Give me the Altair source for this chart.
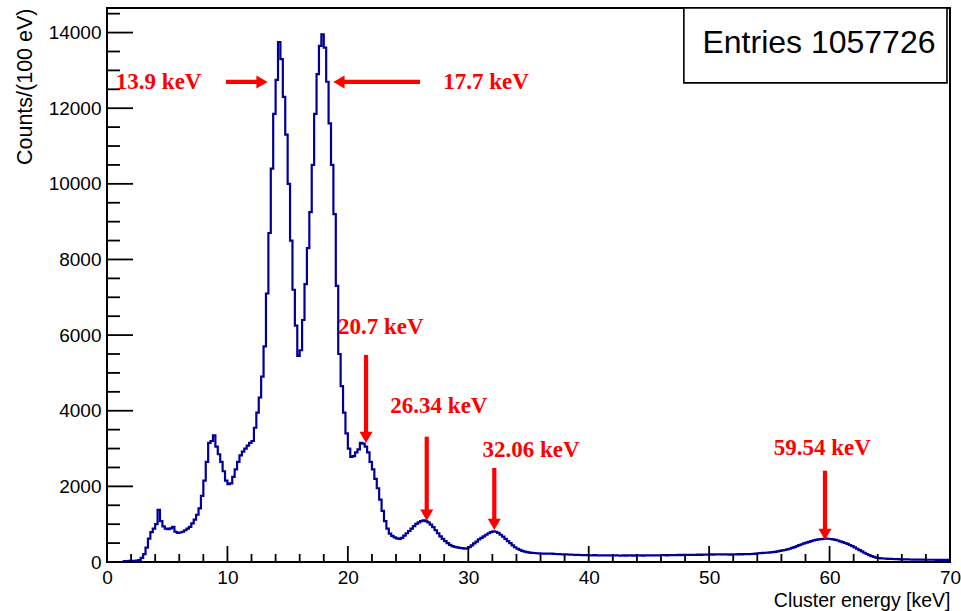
import altair as alt
import pandas as pd

# ---------------- data (counts per 100 eV, read at 0.2 keV bins) ----------------
bin_width = 0.2
counts_00_10 = [0, 0, 0, 0, 0, 0, 0, 22, 25, 28,
                30, 32, 38, 50, 110, 210, 380, 620, 790, 880,
                1000, 1380, 1080, 940, 880, 870, 890, 930, 800, 770,
                780, 800, 840, 880, 930, 1020, 1120, 1250, 1420, 1750,
                2150, 2650, 3150, 3200, 3350, 3050, 2850, 2650, 2400, 2150]
counts_10_20 = [2060, 2080, 2250, 2450, 2650, 2820, 2920, 3000, 3080, 3150,
                3200, 3550, 3950, 4350, 4900, 5700, 7100, 8700, 10400, 11850,
                12750, 13750, 13300, 12300, 11300, 10000, 8500, 7200, 6250, 5450,
                5600, 6400, 7350, 8300, 9250, 10500, 11850, 12900, 13650, 13950,
                13600, 12700, 11600, 10500, 9200, 7300, 5500, 4650, 3950, 3400]
counts_20_30 = [3000, 2780, 2800, 2900, 2980, 3150, 3130, 3050, 2900, 2650,
                2450, 2200, 1950, 1650, 1350, 1080, 880, 750, 690, 650,
                625, 610, 640, 700, 760, 820, 880, 950, 1010, 1050,
                1080, 1100, 1080, 1050, 990, 920, 840, 760, 680, 610,
                550, 500, 455, 420, 400, 385, 375, 365, 355, 360]
counts_30_40 = [390, 440, 490, 540, 600, 640, 680, 720, 760, 790,
                810, 800, 770, 720, 670, 610, 550, 500, 440, 390,
                350, 320, 295, 275, 260, 250, 242, 238, 232, 228,
                225, 222, 220, 218, 222, 215, 212, 210, 205, 203,
                200, 198, 195, 192, 190, 188, 185, 183, 182, 180]
counts_40_50 = [178, 176, 180, 175, 172, 176, 174, 178, 172, 175,
                173, 177, 172, 170, 174, 171, 175, 173, 170, 174,
                172, 175, 171, 174, 176, 173, 177, 175, 178, 176,
                178, 180, 177, 181, 184, 180, 183, 186, 184, 188,
                186, 189, 192, 188, 191, 194, 190, 195, 198, 196]
counts_50_60 = [200, 197, 201, 199, 203, 198, 202, 200, 197, 201,
                204, 200, 206, 203, 208, 210, 207, 212, 215, 220,
                232, 236, 240, 245, 250, 256, 262, 270, 280, 292,
                305, 318, 333, 350, 372, 395, 420, 445, 470, 492,
                512, 532, 552, 570, 585, 598, 607, 613, 616, 615]
counts_60_70 = [608, 598, 585, 568, 548, 527, 503, 478, 450, 420,
                385, 350, 315, 280, 245, 212, 183, 158, 135, 118,
                106, 98, 92, 88, 85, 82, 79, 76, 74, 72,
                70, 68, 67, 66, 65, 64, 63, 62, 62, 61,
                60, 60, 59, 59, 58, 58, 58, 57, 57, 57]

x_ticks_major = [0, 10, 20, 30, 40, 50, 60, 70]
x_ticks_minor = [2, 4, 6, 8, 12, 14, 16, 18, 22, 24, 26, 28, 32, 34, 36, 38,
                 42, 44, 46, 48, 52, 54, 56, 58, 62, 64, 66, 68]
y_ticks_major = [0, 2000, 4000, 6000, 8000, 10000, 12000, 14000]
y_ticks_minor = [500, 1000, 1500, 2500, 3000, 3500, 4500, 5000, 5500, 6500, 7000,
                 7500, 8500, 9000, 9500, 10500, 11000, 11500, 12500, 13000, 13500, 14500]

label_text = ["13.9 keV", "17.7 keV", "20.7 keV", "26.34 keV", "32.06 keV", "59.54 keV"]
label_x = [4.29, 31.47, 22.74, 27.56, 35.21, 59.4]
label_y = [12695, 12695, 6223, 4126, 2962, 3015]

# horizontal arrows: tail -> tip
harrow_right = {"tail": [9.88], "tip": [13.34], "y": [12695]}
harrow_left = {"tail": [25.99], "tip": [18.79], "y": [12695]}
# vertical arrows (pointing down)
varrow_x = [21.51, 26.55, 32.16, 59.62]
varrow_tail = [5475, 3314, 2486, 2415]
varrow_tip = [3147, 1092, 846, 582]

entries_text = "Entries 1057726"
box_x = [47.9, 69.75]
box_y = [12670, 14650]
entries_pos = [59.12, 13713]

X_MAX = 70
Y_MAX = 14650

# ---------------- build tables ----------------
counts = (counts_00_10 + counts_10_20 + counts_20_30 + counts_30_40 +
          counts_40_50 + counts_50_60 + counts_60_70)
edges = [round(i * bin_width, 1) for i in range(len(counts) + 1)]
hist_df = pd.DataFrame({"E": edges, "counts": counts + [counts[-1]]})

xs = alt.Scale(domain=[0, X_MAX], nice=False, zero=False)
ys = alt.Scale(domain=[0, Y_MAX], nice=False, zero=False)

W, H = 843, 554
LABEL_FONT = "Liberation Sans"
RED = "#ff0000"
BLUE = "#000099"

X_AXIS = alt.Axis(
    values=x_ticks_major, ticks=False, tickSize=0, domain=False, grid=False,
    labelFont=LABEL_FONT, labelFontSize=19, labelColor="black",
    labelPadding=6, labelFlush=False, labelOverlap=False,
    title="Cluster energy [keV]", titleFont=LABEL_FONT, titleFontSize=19.5,
    titleFontWeight="normal", titleColor="black", titleAlign="right",
    titleBaseline="alphabetic", titleX=W, titleY=44)
Y_AXIS = alt.Axis(
    values=y_ticks_major, format="d", ticks=False, tickSize=0, domain=False,
    grid=False, labelFont=LABEL_FONT, labelFontSize=19, labelColor="black",
    labelPadding=6, labelFlush=False, labelOverlap=False,
    title="Counts/(100 eV)", titleFont=LABEL_FONT, titleFontSize=21.5,
    titleFontWeight="normal", titleColor="black", titleAngle=270,
    titleAlign="right", titleBaseline="middle", titleX=-82, titleY=0)


def X(field):
    return alt.X(field, scale=xs, axis=X_AXIS)


def Y(field):
    return alt.Y(field, scale=ys, axis=Y_AXIS)


hist = alt.Chart(hist_df).mark_line(
    interpolate="step-after", color=BLUE, strokeWidth=2.2, clip=True
).encode(x=X("E:Q"), y=Y("counts:Q"))


def yticks(vals, length):
    return alt.Chart(pd.DataFrame({"v": vals})).mark_rule(
        color="black", strokeWidth=1.8
    ).encode(y=Y("v:Q"), x=alt.value(0), x2=alt.value(length))


def xticks(vals, length):
    return alt.Chart(pd.DataFrame({"v": vals})).mark_rule(
        color="black", strokeWidth=1.8
    ).encode(x=X("v:Q"), y=alt.value(H), y2=alt.value(H - length))


box = alt.Chart(pd.DataFrame({"x1": [box_x[0]], "x2": [box_x[1]],
                              "y1": [box_y[0]], "y2": [box_y[1]]})).mark_rect(
    fill="white", stroke="black", strokeWidth=1.6
).encode(x=X("x1:Q"), x2="x2:Q", y=Y("y1:Q"), y2="y2:Q")

entries = alt.Chart(pd.DataFrame({"x": [entries_pos[0]], "y": [entries_pos[1]],
                                  "t": [entries_text]})).mark_text(
    font=LABEL_FONT, fontSize=32, color="black", align="center", baseline="middle"
).encode(x=X("x:Q"), y=Y("y:Q"), text="t:N")

HEAD = 170
HOFF = 0.433 * (HEAD ** 0.5)

rdf = pd.DataFrame(harrow_right)
ldf = pd.DataFrame(harrow_left)
vdf = pd.DataFrame({"x": varrow_x, "tail": varrow_tail, "tip": varrow_tip})

r_shaft = alt.Chart(rdf).mark_rule(color=RED, strokeWidth=4.2, x2Offset=-8).encode(
    x=X("tail:Q"), x2="tip:Q", y=Y("y:Q"))
r_head = alt.Chart(rdf).mark_point(shape="triangle-right", filled=True, color=RED,
                                   opacity=1, size=HEAD, xOffset=-HOFF).encode(
    x=X("tip:Q"), y=Y("y:Q"))
l_shaft = alt.Chart(ldf).mark_rule(color=RED, strokeWidth=4.2, x2Offset=8).encode(
    x=X("tail:Q"), x2="tip:Q", y=Y("y:Q"))
l_head = alt.Chart(ldf).mark_point(shape="triangle-left", filled=True, color=RED,
                                   opacity=1, size=HEAD, xOffset=HOFF).encode(
    x=X("tip:Q"), y=Y("y:Q"))
v_shaft = alt.Chart(vdf).mark_rule(color=RED, strokeWidth=4.2, y2Offset=-8).encode(
    x=X("x:Q"), y=Y("tail:Q"), y2="tip:Q")
v_head = alt.Chart(vdf).mark_point(shape="triangle-down", filled=True, color=RED,
                                   opacity=1, size=HEAD, yOffset=-HOFF).encode(
    x=X("x:Q"), y=Y("tip:Q"))

labels = alt.Chart(pd.DataFrame({"t": label_text, "x": label_x, "y": label_y})).mark_text(
    font="Liberation Serif", fontSize=23, fontWeight="bold", color=RED,
    align="center", baseline="middle"
).encode(x=X("x:Q"), y=Y("y:Q"), text="t:N")

chart = alt.layer(
    hist,
    yticks(y_ticks_major, 26), yticks(y_ticks_minor, 13),
    xticks(x_ticks_major, 16), xticks(x_ticks_minor, 8),
    box, entries,
    r_shaft, r_head, l_shaft, l_head, v_shaft, v_head,
    labels,
).properties(
    width=W, height=H,
    autosize=alt.AutoSizeParams(type="none"),
    padding={"left": 107, "top": 8, "right": 11, "bottom": 49},
    background="white",
).configure_view(stroke="black", strokeWidth=2)

chart.save("out.html", embed_options={"renderer": "svg", "actions": False})
